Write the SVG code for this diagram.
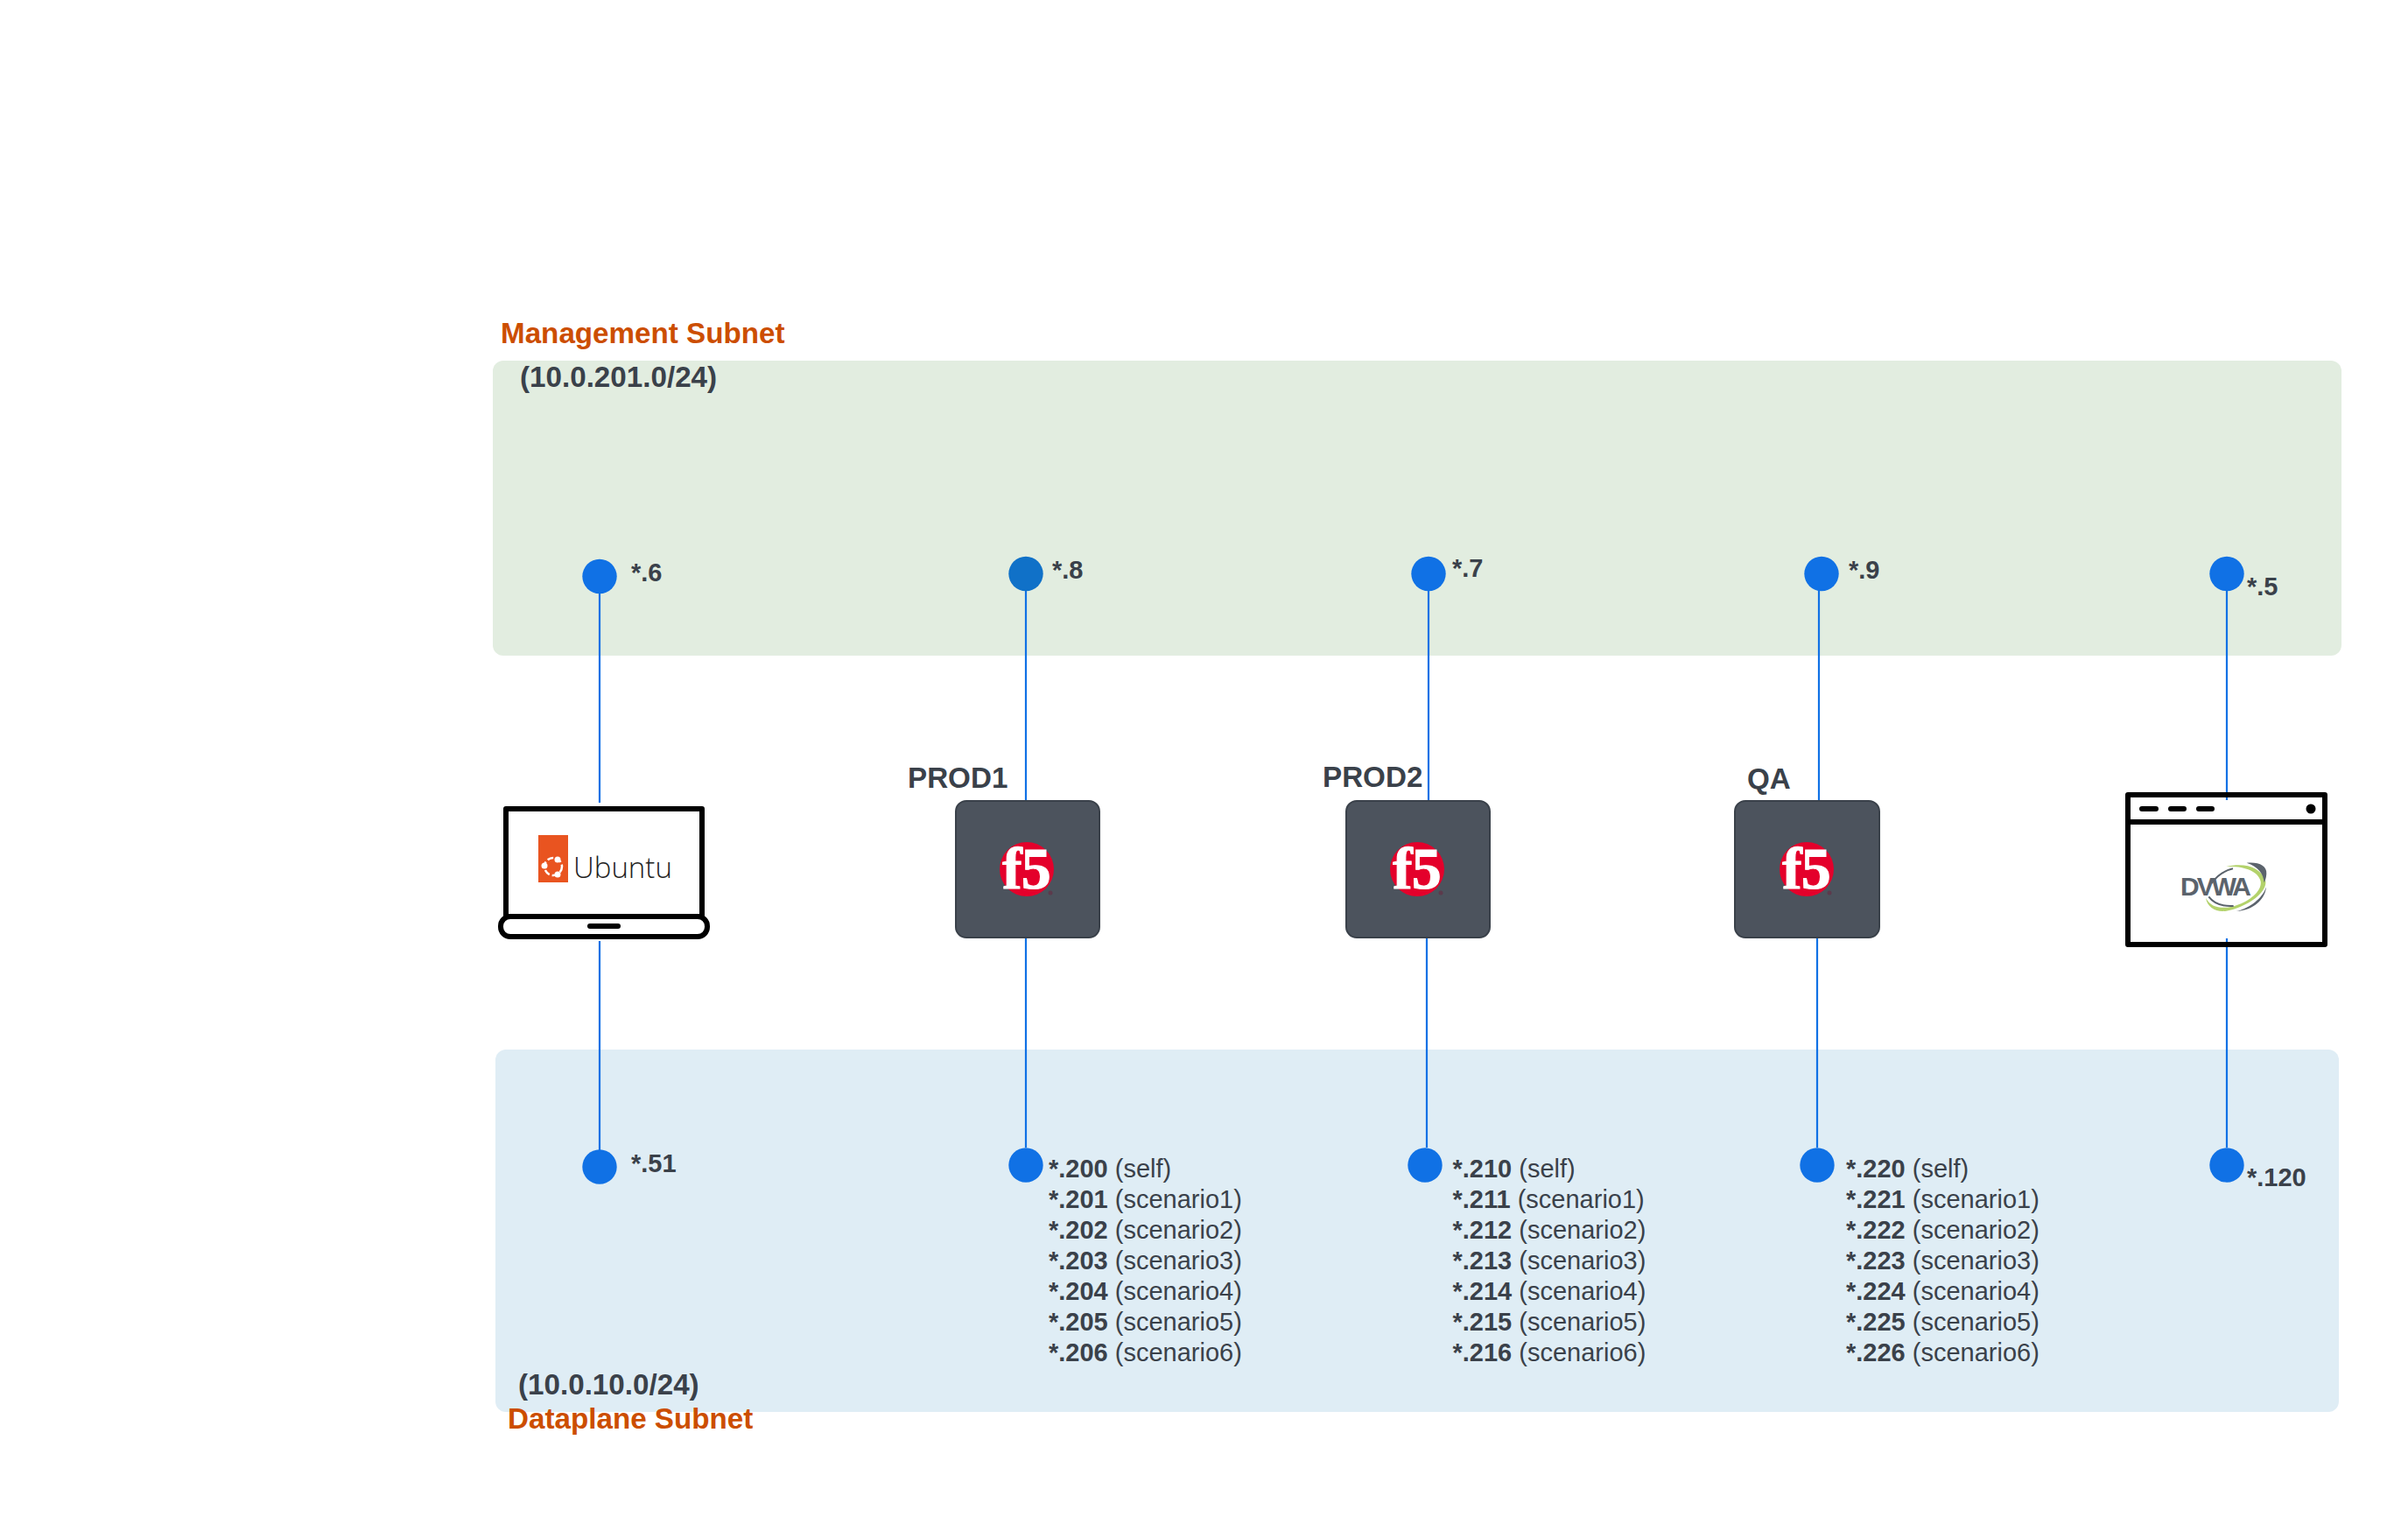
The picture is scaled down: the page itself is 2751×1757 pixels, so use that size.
<svg xmlns="http://www.w3.org/2000/svg" width="2751" height="1757" viewBox="0 0 2751 1757">
<style>
text{font-family:"Liberation Sans",Arial,sans-serif;fill:#3a414a}
.b{font-weight:700}
.t{font-size:33.2px;font-weight:700}
.h{font-size:33.2px;font-weight:700;fill:#cc4e00}
.s{font-size:29px}
.d{fill:#1071e5}
.c{stroke:#1071e5;stroke-width:2.2;fill:none}
.k{fill:none;stroke:#000;stroke-width:6;stroke-linejoin:round;stroke-linecap:round}
.box{fill:#4c535d;stroke:#3a414a;stroke-width:2}
.red{fill:#e4002b}
.reg{fill:#5c3a4c}
.f5{font-family:"Liberation Serif",serif;font-size:68px;font-weight:700;fill:#fff;stroke:#fff;stroke-width:1;letter-spacing:-1px}
.lg{fill:#5b636c}
</style>
<rect width="2751" height="1757" fill="#fff"/>
<g id="management-subnet">
<rect x="563" y="412" width="2112" height="337" rx="12" fill="#e2ede0"/>
<text class="h" x="572" y="392">Management Subnet</text>
<text class="t" x="594" y="442">(10.0.201.0/24)</text>
</g>
<g id="dataplane-subnet">
<rect x="566" y="1199" width="2106" height="414" rx="12" fill="#dfedf5"/>
<text class="t" x="592" y="1593">(10.0.10.0/24)</text>
<text class="h" x="580" y="1632">Dataplane Subnet</text>
</g>
<g id="connectors">
<path class="c" d="M685 678V917M685 1075V1314"/>
<path class="c" d="M1172 675V914M1172 1072V1311"/>
<path class="c" d="M1632 675V914M1630 1072V1311"/>
<path class="c" d="M2078 675V914M2076 1072V1311"/>
<path class="c" d="M2544 675V914M2544 1072V1311"/>
</g>
<g id="ip-mgmt-ubuntu"><circle class="d" cx="685" cy="658.500" r="19.700"/><text class="s b" x="721" y="664">*.6</text></g>
<g id="ip-mgmt-prod1"><circle cx="1172" cy="655.500" r="19.700" fill="#1071c8"/><text class="s b" x="1202" y="661">*.8</text></g>
<g id="ip-mgmt-prod2"><circle class="d" cx="1632" cy="655.500" r="19.700"/><text class="s b" x="1659" y="659">*.7</text></g>
<g id="ip-mgmt-qa"><circle class="d" cx="2081" cy="655.500" r="19.700"/><text class="s b" x="2112" y="661">*.9</text></g>
<g id="ip-mgmt-dvwa"><circle class="d" cx="2544" cy="655.500" r="19.700"/><text class="s b" x="2567" y="680">*.5</text></g>
<g id="ubuntu">
<rect class="k" x="578" y="924" width="224" height="123"/>
<rect class="k" x="572" y="1047" width="236" height="23" rx="11" fill="#fff"/>
<path d="M674 1058H706" stroke="#000" stroke-width="6" stroke-linecap="round"/>
<rect x="615" y="954" width="34" height="54" fill="#e95420"/>
<circle cx="632" cy="990" r="10" fill="none" stroke="#fff" stroke-width="2.500" stroke-dasharray="7 3"/>
<circle cx="622" cy="989" r="3.500" fill="#fff"/><circle cx="637" cy="982" r="3.500" fill="#fff"/><circle cx="637" cy="999" r="3.500" fill="#fff"/>
<text x="655" y="1003" style="font-family:'Open Sans',sans-serif;font-size:33px;font-weight:300;fill:#222">Ubuntu</text>
</g>
<g id="prod1"><rect class="box" x="1092" y="915" width="164" height="156" rx="12"/><circle class="red" cx="1173" cy="993" r="31"/><text class="f5" x="1145" y="1015">f5</text><circle class="reg" cx="1200" cy="1020" r="2.500"/><text class="t" x="1037" y="900">PROD1</text></g>
<g id="prod2"><rect class="box" x="1538" y="915" width="164" height="156" rx="12"/><circle class="red" cx="1619" cy="993" r="31"/><text class="f5" x="1591" y="1015">f5</text><circle class="reg" cx="1646" cy="1020" r="2.500"/><text class="t" x="1511" y="899">PROD2</text></g>
<g id="qa"><rect class="box" x="1982" y="915" width="165" height="156" rx="12"/><circle class="red" cx="2064" cy="993" r="31"/><text class="f5" x="2036" y="1015">f5</text><circle class="reg" cx="2090" cy="1020" r="2.500"/><text class="t" x="1996" y="901">QA</text></g>
<g id="dvwa">
<rect class="k" x="2431" y="908" width="225" height="171"/>
<path class="k" d="M2431 939H2656"/>
<path d="M2447 924H2463M2480 924H2495M2512 924H2527" stroke="#000" stroke-width="6" stroke-linecap="round"/>
<circle cx="2640" cy="924" r="5.500"/>
<g transform="translate(2420 895) scale(.3333)">
<path fill="#b3d26b" d="M370 285C430 270 490 285 505 335C510 375 440 425 370 437C335 442 305 425 300 392C315 420 340 428 375 425C430 418 495 375 488 335C480 300 430 282 370 285Z"/>
<path class="lg" d="M440 272C480 268 510 280 508 310C507 325 503 335 500 340C498 310 480 285 440 272Z"/>
<path class="lg" d="M507 355C505 390 470 435 405 438C445 430 495 395 507 355Z"/>
<path d="M393 292C360 300 335 320 320 342M310 388C330 415 360 422 395 420" fill="none" stroke="#5b636c" stroke-width="6"/>
</g>
<text class="lg" x="2491" y="1023" style="font-size:30px;font-weight:700;letter-spacing:-3px;fill:#5b636c">DVWA</text>
</g>
<g id="ip-data-ubuntu"><circle class="d" cx="685" cy="1333" r="19.700"/><text class="s b" x="721" y="1339">*.51</text></g>
<g id="ip-data-prod1"><circle class="d" cx="1172" cy="1331" r="19.700"/>
<text class="s" x="1198" y="1345"><tspan class="b">*.200</tspan> (self)</text>
<text class="s" x="1198" y="1380"><tspan class="b">*.201</tspan> (scenario1)</text>
<text class="s" x="1198" y="1415"><tspan class="b">*.202</tspan> (scenario2)</text>
<text class="s" x="1198" y="1450"><tspan class="b">*.203</tspan> (scenario3)</text>
<text class="s" x="1198" y="1485"><tspan class="b">*.204</tspan> (scenario4)</text>
<text class="s" x="1198" y="1520"><tspan class="b">*.205</tspan> (scenario5)</text>
<text class="s" x="1198" y="1555"><tspan class="b">*.206</tspan> (scenario6)</text>
</g>
<g id="ip-data-prod2"><circle class="d" cx="1628" cy="1331" r="19.700"/>
<text class="s" x="1659.500" y="1345"><tspan class="b">*.210</tspan> (self)</text>
<text class="s" x="1659.500" y="1380"><tspan class="b">*.211</tspan> (scenario1)</text>
<text class="s" x="1659.500" y="1415"><tspan class="b">*.212</tspan> (scenario2)</text>
<text class="s" x="1659.500" y="1450"><tspan class="b">*.213</tspan> (scenario3)</text>
<text class="s" x="1659.500" y="1485"><tspan class="b">*.214</tspan> (scenario4)</text>
<text class="s" x="1659.500" y="1520"><tspan class="b">*.215</tspan> (scenario5)</text>
<text class="s" x="1659.500" y="1555"><tspan class="b">*.216</tspan> (scenario6)</text>
</g>
<g id="ip-data-qa"><circle class="d" cx="2076" cy="1331" r="19.700"/>
<text class="s" x="2109" y="1345"><tspan class="b">*.220</tspan> (self)</text>
<text class="s" x="2109" y="1380"><tspan class="b">*.221</tspan> (scenario1)</text>
<text class="s" x="2109" y="1415"><tspan class="b">*.222</tspan> (scenario2)</text>
<text class="s" x="2109" y="1450"><tspan class="b">*.223</tspan> (scenario3)</text>
<text class="s" x="2109" y="1485"><tspan class="b">*.224</tspan> (scenario4)</text>
<text class="s" x="2109" y="1520"><tspan class="b">*.225</tspan> (scenario5)</text>
<text class="s" x="2109" y="1555"><tspan class="b">*.226</tspan> (scenario6)</text>
</g>
<g id="ip-data-dvwa"><circle class="d" cx="2544" cy="1331" r="19.700"/><text class="s b" x="2567" y="1355">*.120</text></g>
</svg>
